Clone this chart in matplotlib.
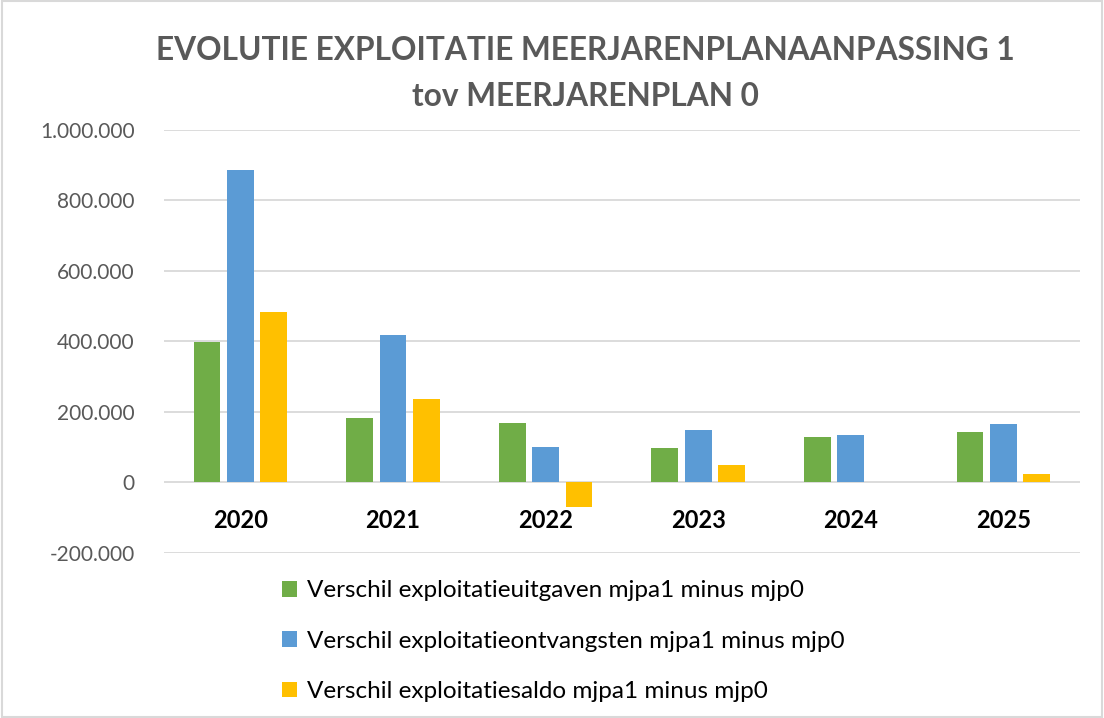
import numpy as np
import matplotlib.pyplot as plt
from matplotlib.ticker import FuncFormatter
from matplotlib.patches import Rectangle

years = ['2020', '2021', '2022', '2023', '2024', '2025']
uitgaven = [398000, 182000, 170000, 97000, 130000, 144000]
ontvangsten = [887000, 418000, 101000, 148000, 134000, 167000]
saldo = [483000, 237000, -69000, 50000, 0, 24000]
series_names = ['Verschil exploitatieuitgaven mjpa1 minus mjp0',
                'Verschil exploitatieontvangsten mjpa1 minus mjp0',
                'Verschil exploitatiesaldo mjpa1 minus mjp0']
colors = ['#70AD47', '#5B9BD5', '#FFC000']

plt.rcParams['font.family'] = ['Lato', 'DejaVu Sans']

fig = plt.figure(figsize=(11.04, 7.18), dpi=100)
fig.patches.append(Rectangle((0.002, 0.002), 0.996, 0.996, transform=fig.transFigure,
                             fill=False, edgecolor='#D9D9D9', linewidth=1.5))
ax = fig.add_axes([0.1486, 0.2298, 0.8294, 0.5892])

x = np.arange(len(years))
w = 0.176
step = 0.219
for i, (vals, name, c) in enumerate(zip([uitgaven, ontvangsten, saldo], series_names, colors)):
    ax.bar(x + (i - 1) * step, vals, width=w, color=c, label=name, zorder=3)

ax.set_xlim(-0.5, len(years) - 0.5)
ax.set_ylim(-200000, 1000000)
ax.set_yticks(np.arange(-200000, 1000001, 200000))
ax.yaxis.set_major_formatter(FuncFormatter(lambda v, p: f'{int(v):,}'.replace(',', '.')))
ax.grid(axis='y', color='#D9D9D9', linewidth=1.3, zorder=0)
ax.tick_params(axis='y', length=0, labelsize=15, labelcolor='#595959', pad=21)
ax.set_xticks([])
for s in ax.spines.values():
    s.set_visible(False)

for xi, yr in zip(x, years):
    ax.annotate(yr, (xi, 0), xytext=(0, -19), textcoords='offset points',
                ha='center', va='top', fontsize=17, fontweight='bold', color='#000000')

fig.text(0.53, 0.929, 'EVOLUTIE EXPLOITATIE MEERJARENPLANAANPASSING 1', ha='center', va='center',
         fontsize=22.8, fontweight='bold', color='#595959')
fig.text(0.53, 0.865, 'tov MEERJARENPLAN 0', ha='center', va='center',
         fontsize=22.8, fontweight='bold', color='#595959')

fig.legend(loc='upper left', bbox_to_anchor=(0.236, 0.222), ncol=1, frameon=False,
           fontsize=17.5, handlelength=0.6, handleheight=0.6, handletextpad=0.4,
           labelspacing=1.2, labelcolor='#000000')

fig.savefig('out.png', dpi=100)
